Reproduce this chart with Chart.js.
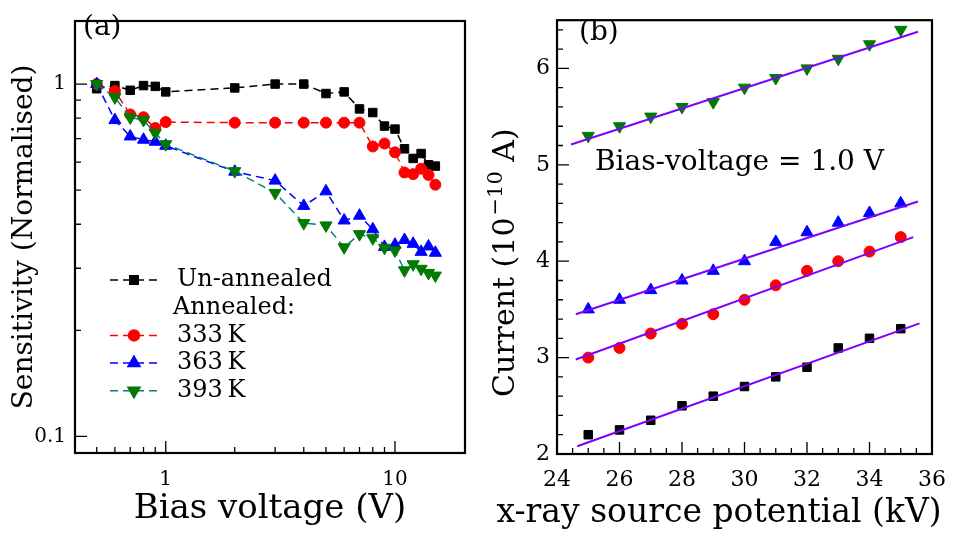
<!DOCTYPE html>
<html>
<head>
<meta charset="utf-8">
<script src="https://cdn.jsdelivr.net/npm/chart.js@4.4.1/dist/chart.umd.min.js"></script>
<style>
  body { margin: 0; background: #fff; }
  #wrap { position: relative; width: 959px; height: 538px; }
  canvas { position: absolute; top: 0; }
  #chartA { left: 0; }
  #chartB { left: 480px; }
</style>
</head>
<body>
<div id="wrap">
  <canvas id="chartA" width="480" height="538"></canvas>
  <canvas id="chartB" width="479" height="538"></canvas>
</div>
<script>
// ---- panel (a): sensitivity vs bias voltage ----
const biasVoltage = [0.5, 0.6, 0.7, 0.8, 0.9, 1, 2, 3, 4, 5, 6, 7, 8, 9, 10, 11, 12, 13, 14, 15];
const unAnnealed  = [0.97, 0.99, 0.96, 0.99, 0.985, 0.95, 0.975, 1.0, 1.0, 0.94, 0.95, 0.85, 0.83, 0.76, 0.745, 0.655, 0.615, 0.635, 0.59, 0.585];
const annealed333 = [1.0, 0.955, 0.82, 0.805, 0.75, 0.78, 0.777, 0.777, 0.777, 0.777, 0.777, 0.777, 0.665, 0.678, 0.64, 0.561, 0.555, 0.575, 0.552, 0.518];
const annealed363 = [1.0, 0.79, 0.71, 0.695, 0.686, 0.668, 0.564, 0.532, 0.451, 0.496, 0.41, 0.423, 0.387, 0.345, 0.35, 0.361, 0.352, 0.334, 0.346, 0.332];
const annealed393 = [1.0, 0.917, 0.804, 0.791, 0.726, 0.675, 0.566, 0.491, 0.403, 0.397, 0.344, 0.375, 0.365, 0.343, 0.337, 0.296, 0.308, 0.299, 0.291, 0.286];
const ticksAx = [1, 10];
const minorAx = [0.5, 0.6, 0.7, 0.8, 0.9, 2, 3, 4, 5, 6, 7, 8, 9];
const ticksAy = [0.1, 1];
const minorAy = [0.2, 0.3, 0.4, 0.5, 0.6, 0.7, 0.8, 0.9];

// ---- panel (b): current vs x-ray source potential ----
const sourceKV = [25, 26, 27, 28, 29, 30, 31, 32, 33, 34, 35];
const currentUn  = [2.2, 2.25, 2.35, 2.5, 2.6, 2.7, 2.8, 2.9, 3.1, 3.2, 3.3];
const current333 = [3.0, 3.1, 3.25, 3.35, 3.45, 3.6, 3.75, 3.9, 4.0, 4.1, 4.25];
const current363 = [3.5, 3.6, 3.7, 3.8, 3.9, 4.0, 4.2, 4.3, 4.4, 4.5, 4.6];
const current393 = [5.3, 5.4, 5.5, 5.6, 5.65, 5.8, 5.9, 6.0, 6.1, 6.25, 6.4];
// linear fits, end points
const fitUnX  = [24.65, 35.6],  fitUnY  = [2.08, 3.355];
const fit333X = [24.6, 35.4],   fit333Y = [2.98, 4.25];
const fit363X = [24.6, 35.55],  fit363Y = [3.45, 4.62];
const fit393X = [24.45, 35.55], fit393Y = [5.21, 6.38];
const ticksBx = [24, 26, 28, 30, 32, 34, 36];
const minorBx = [24.5, 25, 25.5, 26.5, 27, 27.5, 28.5, 29, 29.5, 30.5, 31, 31.5, 32.5, 33, 33.5, 34.5, 35, 35.5];
const ticksBy = [2, 3, 4, 5, 6];
const minorBy = [2.2, 2.4, 2.6, 2.8, 3.2, 3.4, 3.6, 3.8, 4.2, 4.4, 4.6, 4.8, 5.2, 5.4, 5.6, 5.8, 6.2, 6.4];

const SERIF = "'DejaVu Serif', serif";
Chart.defaults.font.family = SERIF;
Chart.defaults.color = '#000';

function pts(xs, ys) {
  return xs.map((x, i) => ({ x: x, y: ys[i] }));
}

// inward tick marks + full box
function frame(chart, xMajor, xMinor, yMajor, yMinor) {
  const ctx = chart.ctx, a = chart.chartArea;
  const sx = chart.scales.x, sy = chart.scales.y;
  ctx.save();
  ctx.strokeStyle = '#000';
  ctx.lineWidth = 1.3;
  ctx.beginPath();
  xMajor.forEach(v => { const p = sx.getPixelForValue(v); ctx.moveTo(p, a.bottom); ctx.lineTo(p, a.bottom - 12); });
  xMinor.forEach(v => { const p = sx.getPixelForValue(v); ctx.moveTo(p, a.bottom); ctx.lineTo(p, a.bottom - 6); });
  yMajor.forEach(v => { const p = sy.getPixelForValue(v); ctx.moveTo(a.left, p); ctx.lineTo(a.left + 12, p); });
  yMinor.forEach(v => { const p = sy.getPixelForValue(v); ctx.moveTo(a.left, p); ctx.lineTo(a.left + 6, p); });
  ctx.stroke();
  ctx.lineWidth = 2.2;
  ctx.strokeRect(a.left, a.top, a.right - a.left, a.bottom - a.top);
  ctx.restore();
}

function label(ctx, text, x, y, size, align, baseline) {
  ctx.save();
  ctx.font = size + 'px ' + SERIF;
  ctx.fillStyle = '#000';
  ctx.textBaseline = baseline || 'middle';
  ctx.textAlign = align || 'left';
  ctx.fillText(text, x, y);
  ctx.restore();
}

const legendA = [
  { text: 'Un-annealed', line: '#000', fill: '#000', style: 'rect', r: 6, rot: 0 },
  { text: 'Annealed:' },
  { text: '333\u2009K', line: '#ff0000', fill: '#ff0000', style: 'circle', r: 5.5, rot: 0 },
  { text: '363\u2009K', line: '#0000ff', fill: '#0000ff', style: 'triangle', r: 7, rot: 0 },
  { text: '393\u2009K', line: '#008080', fill: '#007a00', style: 'triangle', r: 7, rot: 180 }
];

const panelA = {
  id: 'panelA',
  afterDraw(chart) {
    const ctx = chart.ctx;
    frame(chart, ticksAx, minorAx, ticksAy, minorAy);
    label(ctx, '(a)', 83, 28, 28);
    let y = 280;
    legendA.forEach(e => {
      if (e.line) {
        ctx.save();
        ctx.strokeStyle = e.line;
        ctx.lineWidth = 1.5;
        ctx.setLineDash([8, 5]);
        ctx.beginPath(); ctx.moveTo(110, y); ctx.lineTo(157, y); ctx.stroke();
        ctx.setLineDash([]);
        ctx.fillStyle = e.fill; ctx.strokeStyle = e.fill;
        Chart.helpers.drawPoint(ctx, { pointStyle: e.style, radius: e.r, rotation: e.rot, borderWidth: 1 }, 134, y);
        ctx.restore();
        label(ctx, e.text, 177, y, 24);
      } else {
        label(ctx, e.text, 173, y, 24);
      }
      y += 27.7;
    });
  }
};

// y title of (b) has a real superscript, so it is drawn here
function currentTitle(ctx) {
  ctx.save();
  ctx.translate(34, 397);
  ctx.rotate(-Math.PI / 2);
  ctx.fillStyle = '#000';
  ctx.textBaseline = 'alphabetic';
  ctx.textAlign = 'left';
  ctx.font = '30px ' + SERIF;
  const base = 'Current (10';
  ctx.fillText(base, 0, 0);
  let w = ctx.measureText(base).width + 2;
  ctx.font = '21px ' + SERIF;
  const sup = '\u221210';
  ctx.fillText(sup, w, -12);
  w += ctx.measureText(sup).width;
  ctx.font = '30px ' + SERIF;
  ctx.fillText(' A)', w, 0);
  ctx.restore();
}

const panelB = {
  id: 'panelB',
  afterDraw(chart) {
    const ctx = chart.ctx;
    frame(chart, ticksBx, minorBx, ticksBy, minorBy);
    label(ctx, '(b)', 99, 33, 28);
    label(ctx, 'Bias-voltage = 1.0 V', 115, 163, 28);
    currentTitle(ctx);
    // wider than the plot area, so drawn here instead of the scale title (which would squeeze it)
    label(ctx, 'x-ray source potential (kV)', 239, 522, 33, 'center', 'alphabetic');
  }
};

function dashed(lbl, ys, line, fill, style, r, rot, order) {
  return {
    label: lbl, data: pts(biasVoltage, ys),
    borderColor: line, borderWidth: 1.5, borderDash: [8, 5],
    pointStyle: style, pointRadius: r, pointRotation: rot,
    pointBackgroundColor: fill, pointBorderColor: fill, pointBorderWidth: 1,
    order: order
  };
}

new Chart(document.getElementById('chartA'), {
  type: 'line',
  data: {
    datasets: [
      dashed('Un-annealed', unAnnealed, '#000', '#000', 'rect', 6, 0, 4),
      dashed('333 K', annealed333, '#ff0000', '#ff0000', 'circle', 5.5, 0, 3),
      dashed('363 K', annealed363, '#0000ff', '#0000ff', 'triangle', 7, 0, 2),
      dashed('393 K', annealed393, '#008080', '#007a00', 'triangle', 7, 180, 1)
    ]
  },
  options: {
    responsive: false,
    animation: false,
    layout: { padding: { left: 0, top: 8, right: 15, bottom: 0 } },
    plugins: { legend: { display: false }, tooltip: { enabled: false } },
    scales: {
      x: {
        type: 'logarithmic', min: 0.402, max: 20.2,
        grid: { display: false, drawTicks: false }, border: { display: false },
        afterBuildTicks: s => { s.ticks = ticksAx.map(v => ({ value: v })); },
        afterFit: s => { s.height = 85; },
        ticks: { font: { family: SERIF, size: 20 }, padding: 15, maxRotation: 0, autoSkip: false, callback: v => String(v) },
        title: { display: true, text: 'Bias voltage (V)', font: { family: SERIF, size: 34 }, padding: { top: 0, bottom: 8 } }
      },
      y: {
        type: 'logarithmic', min: 0.0897, max: 1.51,
        grid: { display: false, drawTicks: false }, border: { display: false },
        afterBuildTicks: s => { s.ticks = ticksAy.map(v => ({ value: v })); },
        afterFit: s => { s.width = 75; },
        ticks: { font: { family: SERIF, size: 20 }, padding: 9, autoSkip: false, callback: v => String(v) },
        title: { display: true, text: 'Sensitivity (Normalised)', font: { family: SERIF, size: 28 }, padding: { top: 8, bottom: 0 } }
      }
    }
  },
  plugins: [panelA]
});

function markers(lbl, ys, color, style, r, rot) {
  return {
    label: lbl, data: pts(sourceKV, ys), showLine: false,
    pointStyle: style, pointRadius: r, pointRotation: rot,
    pointBackgroundColor: color, pointBorderColor: color, pointBorderWidth: 1,
    order: 2
  };
}
function fit(xs, ys) {
  return {
    data: pts(xs, ys), borderColor: '#7f00ff', borderWidth: 2,
    pointRadius: 0, order: 1
  };
}

new Chart(document.getElementById('chartB'), {
  type: 'line',
  data: {
    datasets: [
      markers('Un-annealed', currentUn, '#000', 'rect', 6, 0),
      markers('333 K', current333, '#ff0000', 'circle', 5.5, 0),
      markers('363 K', current363, '#0000ff', 'triangle', 7, 0),
      markers('393 K', current393, '#007a00', 'triangle', 7, 180),
      fit(fitUnX, fitUnY),
      fit(fit333X, fit333Y),
      fit(fit363X, fit363Y),
      fit(fit393X, fit393Y)
    ]
  },
  options: {
    responsive: false,
    animation: false,
    layout: { padding: { left: 0, top: 10, right: 26, bottom: 0 } },
    plugins: { legend: { display: false }, tooltip: { enabled: false } },
    scales: {
      x: {
        type: 'linear', min: 24, max: 36,
        grid: { display: false, drawTicks: false }, border: { display: false },
        afterBuildTicks: s => { s.ticks = ticksBx.map(v => ({ value: v })); },
        afterFit: s => { s.height = 84; },
        ticks: { font: { family: SERIF, size: 22 }, padding: 13, maxRotation: 0, autoSkip: false },
        title: { display: false }
      },
      y: {
        type: 'linear', min: 2, max: 6.5,
        grid: { display: false, drawTicks: false }, border: { display: false },
        afterBuildTicks: s => { s.ticks = ticksBy.map(v => ({ value: v })); },
        afterFit: s => { s.width = 77; },
        ticks: { font: { family: SERIF, size: 22 }, padding: 7, autoSkip: false },
        title: { display: false }
      }
    }
  },
  plugins: [panelB]
});
</script>
</body>
</html>
